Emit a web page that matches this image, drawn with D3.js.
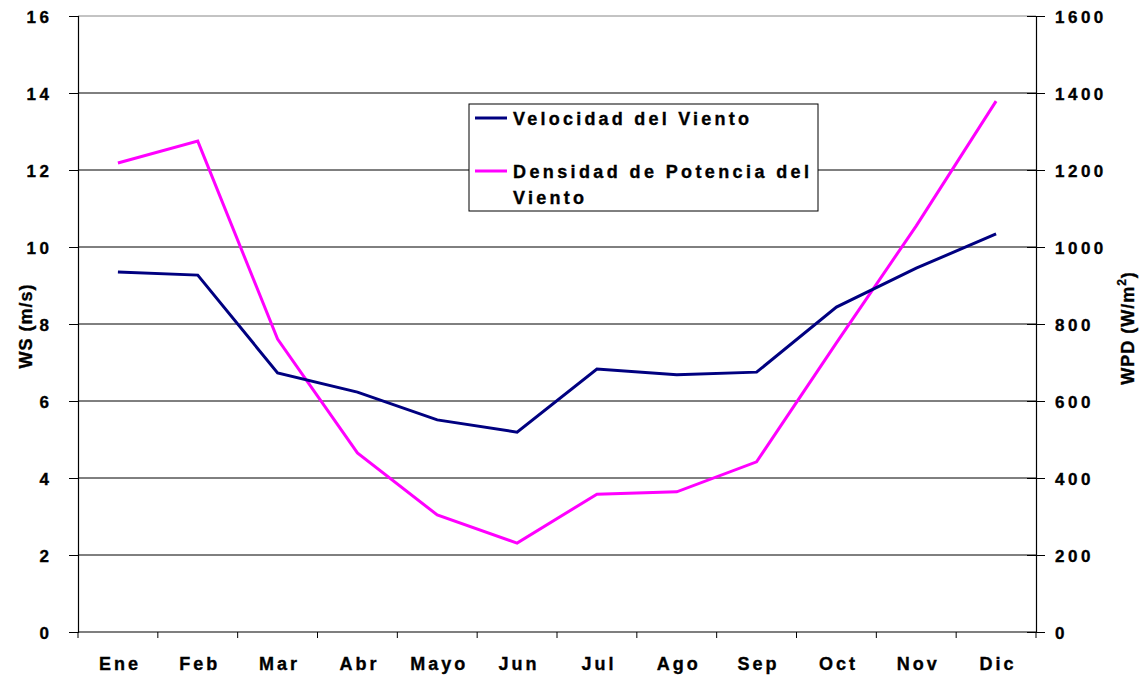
<!DOCTYPE html>
<html>
<head>
<meta charset="utf-8">
<script src="https://cdn.jsdelivr.net/npm/d3@7"></script>
<style>
  body { margin: 0; background: #fff; }
  svg text { font-family: "Liberation Sans", Arial, sans-serif; font-weight: bold; fill: #000;
             stroke: #000; stroke-width: 0.35px; }
</style>
</head>
<body>
<div id="chart"></div>
<script>
// Data
const months = ["Ene", "Feb", "Mar", "Abr", "Mayo", "Jun", "Jul", "Ago", "Sep", "Oct", "Nov", "Dic"];
const windSpeed = [9.35, 9.27, 6.73, 6.23, 5.51, 5.19, 6.83, 6.68, 6.75, 8.44, 9.45, 10.34];
const powerDensity = [1218, 1275, 761, 465, 304, 231, 358, 364, 442, 751, 1055, 1379];
const leftTicks = [0, 2, 4, 6, 8, 10, 12, 14, 16];
const rightTicks = [0, 200, 400, 600, 800, 1000, 1200, 1400, 1600];

const W = 1141, H = 676;
const margin = {top: 16, right: 105, bottom: 44, left: 78};
const width = W - margin.left - margin.right,
      height = H - margin.top - margin.bottom;

const svg = d3.select("#chart").append("svg")
    .attr("width", W)
    .attr("height", H)
  .append("g")
    .attr("transform", `translate(${margin.left},${margin.top})`);

// Scales
const x = d3.scaleBand().domain(months).range([0, width]);
const yL = d3.scaleLinear().domain([0, 16]).range([height, 0]);
const yR = d3.scaleLinear().domain([0, 1600]).range([height, 0]);
const cx = d => x(d) + x.bandwidth() / 2;

// Gridlines
svg.append("g")
    .selectAll("line")
    .data(leftTicks.filter(t => t > 0))
    .enter().append("line")
    .attr("x1", 0).attr("x2", width)
    .attr("y1", d => yL(d)).attr("y2", d => yL(d))
    .attr("stroke", d => d === 16 ? "#888" : "#000")
    .attr("stroke-width", 1);

// Left axis
const gL = svg.append("g")
    .call(d3.axisLeft(yL).tickValues(leftTicks).tickSize(9).tickPadding(20));
gL.select(".domain").attr("stroke", "#000").attr("stroke-width", 1.2);
gL.selectAll(".tick line").attr("stroke", "#000");
gL.selectAll("text").attr("font-size", 17).attr("letter-spacing", 3.5)
    .attr("dy", "0.36em").attr("dx", 3.5);

// Right axis
const gR = svg.append("g")
    .attr("transform", `translate(${width},0)`)
    .call(d3.axisRight(yR).tickValues(rightTicks).tickFormat(d3.format("d")).tickSize(9).tickPadding(10));
gR.select(".domain").attr("stroke", "#000").attr("stroke-width", 1.2);
gR.selectAll(".tick line").attr("stroke", "#000").attr("x1", -9);
gR.selectAll("text").attr("font-size", 17).attr("letter-spacing", 3.5)
    .attr("dy", "0.36em");

// Bottom axis with ticks on band edges
const gB = svg.append("g")
    .attr("transform", `translate(0,${height})`);
gB.append("line")
    .attr("x1", 0).attr("x2", width)
    .attr("stroke", "#000").attr("stroke-width", 1.2);
gB.selectAll(".edge")
    .data(months.concat(["end"]))
    .enter().append("line")
    .attr("class", "edge")
    .attr("x1", (d, i) => i * x.bandwidth())
    .attr("x2", (d, i) => i * x.bandwidth())
    .attr("y1", 0).attr("y2", 6)
    .attr("stroke", "#000");
gB.selectAll(".mlabel")
    .data(months)
    .enter().append("text")
    .attr("class", "mlabel")
    .attr("x", d => cx(d) + 2)
    .attr("y", 38)
    .attr("text-anchor", "middle")
    .attr("font-size", 18)
    .attr("letter-spacing", 3)
    .text(d => d);

// Lines
const lineWS = d3.line().x((d, i) => cx(months[i])).y(d => yL(d));
const lineWPD = d3.line().x((d, i) => cx(months[i])).y(d => yR(d));

svg.append("path")
    .datum(powerDensity)
    .attr("d", lineWPD)
    .attr("fill", "none")
    .attr("stroke", "#ff00ff")
    .attr("stroke-width", 3);

svg.append("path")
    .datum(windSpeed)
    .attr("d", lineWS)
    .attr("fill", "none")
    .attr("stroke", "#000080")
    .attr("stroke-width", 3);

// Axis titles
svg.append("text")
    .attr("transform", `translate(${-46},${height / 2 + 2}) rotate(-90)`)
    .attr("text-anchor", "middle")
    .attr("font-size", 18)
    .attr("letter-spacing", 1)
    .text("WS (m/s)");

const rt = svg.append("text")
    .attr("transform", `translate(${width + 98},${height / 2 + 4}) rotate(-90)`)
    .attr("text-anchor", "middle")
    .attr("font-size", 18)
    .attr("letter-spacing", 1);
rt.append("tspan").text("WPD (W/m");
rt.append("tspan").attr("font-size", 12).attr("dy", -8).text("2");
rt.append("tspan").attr("dy", 8).text(")");

// Legend
const lg = svg.append("g").attr("transform", `translate(${469 - margin.left},${104 - margin.top})`);
lg.append("rect")
    .attr("width", 349).attr("height", 107)
    .attr("fill", "#fff").attr("stroke", "#000").attr("stroke-width", 1);
const legendItems = [
  {lines: ["Velocidad del Viento"], color: "#000080", y: 14, widths: [236]},
  {lines: ["Densidad de Potencia del", "Viento"], color: "#ff00ff", y: 67, widths: [296, 71]}
];
legendItems.forEach(item => {
  lg.append("line")
      .attr("x1", 6).attr("x2", 38)
      .attr("y1", item.y).attr("y2", item.y)
      .attr("stroke", item.color).attr("stroke-width", 3);
  item.lines.forEach((t, j) => {
    lg.append("text")
        .attr("x", 44)
        .attr("y", item.y + 7 + j * 26)
        .attr("font-size", 18)
        .attr("textLength", item.widths[j])
        .attr("lengthAdjust", "spacing")
        .text(t);
  });
});
</script>
</body>
</html>
